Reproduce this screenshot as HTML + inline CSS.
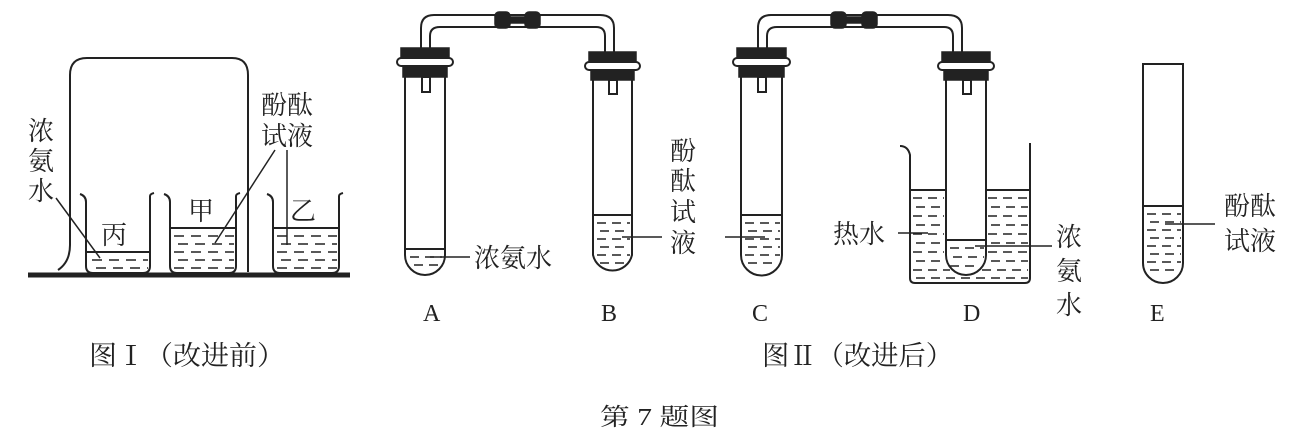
<!DOCTYPE html>
<html><head><meta charset="utf-8"><style>
html,body{margin:0;padding:0;background:#fff}
svg{display:block}
text{font-family:"Liberation Serif","Noto Serif CJK SC","Noto Sans CJK SC",serif;fill:#222}
</style></head><body>
<svg width="1314" height="441" viewBox="0 0 1314 441" xmlns="http://www.w3.org/2000/svg">
<g fill="none" stroke="#222" stroke-width="2">
<!-- Figure I -->
<path d="M58 270 Q70 262 70 245 V75 Q70 58 87 58 H232 Q248 58 248 75 V272"/>
<line x1="28" y1="275" x2="350" y2="275" stroke-width="5"/>
<path d="M80 194 Q86 196 86 202 V266 Q86 273 93 273 H143 Q150 273 150 266 V196 Q150 194 154 193"/>
<line x1="86" y1="252" x2="150" y2="252"/>
<path d="M164 194 Q170 196 170 202 V266 Q170 273 177 273 H229 Q236 273 236 266 V196 Q236 194 240 193"/>
<line x1="170" y1="228" x2="236" y2="228"/>
<path d="M267 194 Q273 196 273 202 V266 Q273 273 280 273 H332 Q339 273 339 266 V196 Q339 194 343 193"/>
<line x1="273" y1="228" x2="339" y2="228"/>
<g stroke-dasharray="10 7" stroke-width="1.6">
<line x1="92" y1="260" x2="148" y2="260"/><line x1="96" y1="268" x2="148" y2="268"/>
<line x1="174" y1="236" x2="234" y2="236"/><line x1="178" y1="244" x2="234" y2="244"/><line x1="174" y1="252" x2="234" y2="252"/><line x1="178" y1="260" x2="234" y2="260"/><line x1="174" y1="268" x2="234" y2="268"/>
<line x1="277" y1="236" x2="337" y2="236"/><line x1="281" y1="244" x2="337" y2="244"/><line x1="277" y1="252" x2="337" y2="252"/><line x1="281" y1="260" x2="337" y2="260"/><line x1="277" y1="268" x2="337" y2="268"/>
</g>
<line x1="56" y1="198" x2="100" y2="258" stroke-width="1.5"/>
<line x1="275" y1="150" x2="215" y2="243" stroke-width="1.5"/>
<line x1="287" y1="150" x2="287" y2="245" stroke-width="1.5"/>

<!-- tubes -->
<path d="M405 77 V255 A20 20 0 0 0 445 255 V77"/>
<path d="M593 80 V255 A20 20 0 0 0 632 255 V80"/>
<path d="M741 77 V255 A20 20 0 0 0 782 255 V77"/>
<path d="M946 80 V255 A20 20 0 0 0 986 255 V80"/>
<path d="M1143 64 V263 A20 20 0 0 0 1183 263 V64 Z"/>
<line x1="405" y1="249" x2="445" y2="249"/>
<line x1="593" y1="215" x2="632" y2="215"/>
<line x1="741" y1="215" x2="782" y2="215"/>
<line x1="946" y1="240" x2="986" y2="240"/>
<line x1="1143" y1="206" x2="1183" y2="206"/>
<!-- inner stubs -->
<rect x="422" y="77" width="8" height="15"/><rect x="609" y="80" width="8" height="14"/>
<rect x="758" y="77" width="8" height="15"/><rect x="963" y="80" width="8" height="14"/>
<!-- pipes -->
<path d="M421 50 V28 Q421 15 434 15 H600 Q614 15 614 28 V52"/>
<path d="M430 50 V36 Q430 27 440 27 H596 Q605 27 605 36 V52"/>
<path d="M758 50 V28 Q758 15 771 15 H948 Q962 15 962 28 V52"/>
<path d="M767 50 V36 Q767 27 777 27 H944 Q953 27 953 36 V52"/>
<!-- beaker D -->
<path d="M900 146 Q908 146 910 155 V278 Q910 283 915 283 H1025 Q1030 283 1030 278 V143"/>
<line x1="910" y1="190" x2="946" y2="190"/><line x1="986" y1="190" x2="1030" y2="190"/>
<g stroke-dasharray="9 6" stroke-width="1.6">
<line x1="410" y1="257" x2="442" y2="257"/><line x1="414" y1="265" x2="440" y2="265"/>
<line x1="597" y1="223" x2="630" y2="223"/><line x1="600" y1="231" x2="630" y2="231"/><line x1="597" y1="239" x2="630" y2="239"/><line x1="600" y1="247" x2="630" y2="247"/><line x1="597" y1="255" x2="630" y2="255"/><line x1="600" y1="263" x2="628" y2="263"/>
<line x1="745" y1="223" x2="780" y2="223"/><line x1="748" y1="231" x2="780" y2="231"/><line x1="745" y1="239" x2="780" y2="239"/><line x1="748" y1="247" x2="780" y2="247"/><line x1="745" y1="255" x2="780" y2="255"/><line x1="748" y1="263" x2="776" y2="263"/>
<line x1="950" y1="248" x2="984" y2="248"/><line x1="953" y1="257" x2="984" y2="257"/><line x1="950" y1="266" x2="980" y2="266"/>
<line x1="1147" y1="214" x2="1181" y2="214"/><line x1="1150" y1="222" x2="1181" y2="222"/><line x1="1147" y1="230" x2="1181" y2="230"/><line x1="1150" y1="238" x2="1181" y2="238"/><line x1="1147" y1="246" x2="1181" y2="246"/><line x1="1150" y1="254" x2="1181" y2="254"/><line x1="1147" y1="262" x2="1181" y2="262"/><line x1="1150" y1="270" x2="1179" y2="270"/>
</g>
<g stroke-dasharray="9 6" stroke-width="1.6">
<line x1="913" y1="198" x2="944" y2="198"/><line x1="988" y1="198" x2="1028" y2="198"/>
<line x1="916" y1="207" x2="944" y2="207"/><line x1="991" y1="207" x2="1028" y2="207"/>
<line x1="913" y1="216" x2="944" y2="216"/><line x1="988" y1="216" x2="1028" y2="216"/>
<line x1="916" y1="225" x2="944" y2="225"/><line x1="991" y1="225" x2="1028" y2="225"/>
<line x1="913" y1="234" x2="944" y2="234"/><line x1="988" y1="234" x2="1028" y2="234"/>
<line x1="916" y1="243" x2="944" y2="243"/><line x1="991" y1="243" x2="1028" y2="243"/>
<line x1="913" y1="252" x2="944" y2="252"/><line x1="988" y1="252" x2="1028" y2="252"/>
<line x1="916" y1="261" x2="944" y2="261"/><line x1="991" y1="261" x2="1028" y2="261"/>
<line x1="913" y1="270" x2="950" y2="270"/><line x1="982" y1="270" x2="1028" y2="270"/>
<line x1="916" y1="278" x2="1028" y2="278"/>
</g>
<!-- leaders -->
<line x1="430" y1="257" x2="470" y2="257" stroke-width="1.5"/>
<line x1="622" y1="237" x2="662" y2="237" stroke-width="1.5"/>
<line x1="725" y1="237" x2="765" y2="237" stroke-width="1.5"/>
<line x1="898" y1="233" x2="928" y2="233" stroke-width="1.5"/>
<line x1="975" y1="246" x2="1052" y2="246" stroke-width="1.5"/>
<line x1="1165" y1="224" x2="1215" y2="224" stroke-width="1.5"/>
</g>
<!-- stoppers & hoses -->
<g fill="#222" stroke="#222" stroke-width="1.5">
<rect x="401" y="48" width="48" height="10"/><rect x="403" y="66" width="44" height="11"/>
<rect x="589" y="52" width="47" height="10"/><rect x="591" y="69" width="43" height="11"/>
<rect x="737" y="48" width="49" height="10"/><rect x="739" y="66" width="45" height="11"/>
<rect x="942" y="52" width="48" height="10"/><rect x="944" y="69" width="44" height="11"/>
<rect x="495" y="12" width="15" height="16" rx="4"/><rect x="525" y="12" width="15" height="16" rx="4"/><rect x="508" y="17" width="20" height="6"/>
<rect x="831" y="12" width="15" height="16" rx="4"/><rect x="862" y="12" width="15" height="16" rx="4"/><rect x="844" y="17" width="20" height="6"/>
</g>
<g fill="#fff" stroke="#222" stroke-width="2">
<rect x="397" y="58" width="56" height="8" rx="4"/><rect x="585" y="62" width="55" height="8" rx="4"/>
<rect x="733" y="58" width="57" height="8" rx="4"/><rect x="938" y="62" width="56" height="8" rx="4"/>
</g>
<!-- labels -->
<g font-size="26">
<text x="28" y="140">浓</text><text x="28" y="170">氨</text><text x="28" y="200">水</text>
<text x="261" y="114">酚酞</text><text x="261" y="145">试液</text>
<text x="101" y="244">丙</text><text x="188" y="220">甲</text><text x="290" y="220">乙</text>
<text x="474" y="267">浓氨水</text>
<text x="670" y="160">酚</text><text x="670" y="190">酞</text><text x="670" y="221">试</text><text x="670" y="252">液</text>
<text x="833" y="243">热水</text>
<text x="1056" y="246">浓</text><text x="1056" y="280">氨</text><text x="1056" y="314">水</text>
<text x="1224" y="215">酚酞</text><text x="1224" y="250">试液</text>
</g>
<g font-size="24">
<text x="423" y="321">A</text><text x="601" y="321">B</text><text x="752" y="321">C</text><text x="963" y="321">D</text><text x="1150" y="321">E</text>
</g>
<text x="89" y="365" font-size="27" textLength="196" lengthAdjust="spacingAndGlyphs">图Ⅰ（改进前）</text>
<text x="762" y="365" font-size="27" textLength="191" lengthAdjust="spacingAndGlyphs">图Ⅱ（改进后）</text>
<text x="600" y="425" font-size="24" textLength="119" lengthAdjust="spacingAndGlyphs">第 7 题图</text>
</svg>
</body></html>
